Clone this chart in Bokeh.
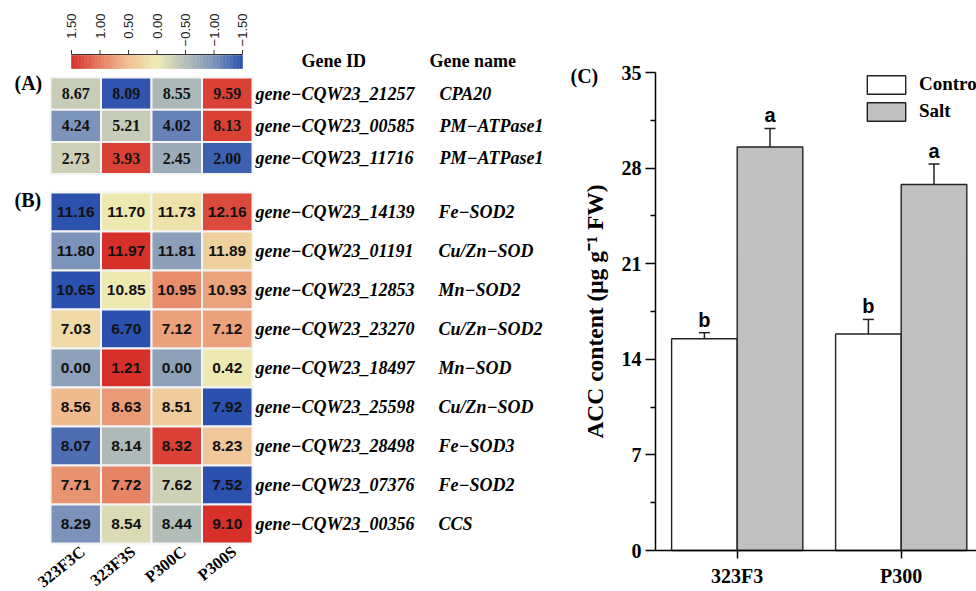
import numpy as np
from bokeh.plotting import figure
from bokeh.models import (Range1d, ColumnDataSource, LinearColorMapper, Whisker, TeeHead,
                          Legend, LegendItem, FixedTicker, LinearAxis)
from bokeh.embed import file_html
from bokeh.resources import INLINE
from bokeh.core.properties import value
from bokeh.transform import transform

# ---------------- data ----------------
samples = ["323F3C", "323F3S", "P300C", "P300S"]

genes_A = ["gene\u2212CQW23_21257", "gene\u2212CQW23_00585", "gene\u2212CQW23_11716"]
names_A = ["CPA20", "PM\u2212ATPase1", "PM\u2212ATPase1"]
expr_A = [[8.67, 8.09, 8.55, 9.59],
          [4.24, 5.21, 4.02, 8.13],
          [2.73, 3.93, 2.45, 2.00]]

genes_B = ["gene\u2212CQW23_14139", "gene\u2212CQW23_01191", "gene\u2212CQW23_12853",
           "gene\u2212CQW23_23270", "gene\u2212CQW23_18497", "gene\u2212CQW23_25598",
           "gene\u2212CQW23_28498", "gene\u2212CQW23_07376", "gene\u2212CQW23_00356"]
names_B = ["Fe\u2212SOD2", "Cu/Zn\u2212SOD", "Mn\u2212SOD2", "Cu/Zn\u2212SOD2", "Mn\u2212SOD",
           "Cu/Zn\u2212SOD", "Fe\u2212SOD3", "Fe\u2212SOD2", "CCS"]
expr_B = [[11.16, 11.70, 11.73, 12.16],
          [11.80, 11.97, 11.81, 11.89],
          [10.65, 10.85, 10.95, 10.93],
          [7.03, 6.70, 7.12, 7.12],
          [0.00, 1.21, 0.00, 0.42],
          [8.56, 8.63, 8.51, 7.92],
          [8.07, 8.14, 8.32, 8.23],
          [7.71, 7.72, 7.62, 7.52],
          [8.29, 8.54, 8.44, 9.10]]

cbar_ticks = [1.5, 1.0, 0.5, 0.0, -0.5, -1.0, -1.5]
cbar_labels = ["1.50", "1.00", "0.50", "0.00", "\u22120.50", "\u22121.00", "\u22121.50"]

cultivars = ["323F3", "P300"]
treatments = ["Control", "Salt"]
acc_control = [15.5, 15.85]
acc_control_err = [0.45, 1.07]
acc_salt = [29.55, 26.8]
acc_salt_err = [1.35, 1.5]
letters_control = ["b", "b"]
letters_salt = ["a", "a"]
acc_ticks = [0, 7, 14, 21, 28, 35]

# ---------------- styling helpers ----------------
anchors = ["#2B50AD", "#7A93BA", "#B3BDB8", "#EEEBB4", "#F0C194", "#E57E61", "#D7302B"]


def build_palette(hexes, n=256):
    rgb = np.array([[int(h[i:i + 2], 16) for i in (1, 3, 5)] for h in hexes], float)
    pos = np.linspace(0, 1, len(hexes))
    t = np.linspace(0, 1, n)
    ch = [np.interp(t, pos, rgb[:, k]) for k in range(3)]
    return ["#%02x%02x%02x" % (int(round(ch[0][i])), int(round(ch[1][i])), int(round(ch[2][i])))
            for i in range(n)]


pal = build_palette(anchors)


def row_z(m):
    a = np.array(m, float)
    return (a - a.mean(axis=1, keepdims=True)) / a.std(axis=1, keepdims=True)


SERIF = value("Liberation Serif")
SANS = value("Liberation Sans")

# ---------------- one canvas ----------------
W, H = 976, 591
col_px, x0_px = 50.5, 50.0
rowA_px, yA0 = 32.2, 77.0
rowB_px, yB0 = 39.0, 192.0

# bar chart geometry (pixels)
bar_left, bar_top, bar_bottom = 655.0, 72.0, 550.0
grp1_px, grp_step = 736.7, 164.0
ymax = 35.0
ppu = (bar_bottom - bar_top) / ymax

p = figure(width=W, height=H, output_backend="svg", toolbar_location=None,
           x_range=Range1d(-x0_px / col_px, (W - x0_px) / col_px),
           y_range=Range1d((H - yB0) / rowB_px, -yB0 / rowB_px),
           x_axis_type=None, y_axis_type=None, min_border=0)
p.outline_line_color = None
p.background_fill_color = "white"
p.extra_y_ranges = {"A": Range1d((H - yA0) / rowA_px, -yA0 / rowA_px),
                    "px": Range1d(H, 0),
                    "by": Range1d(-(H - bar_bottom) / ppu, ymax + bar_top / ppu)}
p.extra_x_ranges = {"px": Range1d(0, W),
                    "z": Range1d(1.5 + 71 / 57.0, 1.5 - (W - 71) / 57.0),
                    "bx": Range1d(1 - grp1_px / grp_step, 1 + (W - grp1_px) / grp_step)}

mapA = LinearColorMapper(palette=pal, low=-1.2, high=1.6)
mapB = LinearColorMapper(palette=pal, low=-1.5, high=1.5)


def cells(expr):
    z = row_z(expr)
    xs, ys, zs, labs = [], [], [], []
    for i, r in enumerate(expr):
        for j, v in enumerate(r):
            xs.append(j + 0.5)
            ys.append(i + 0.5)
            zs.append(float(np.clip(z[i, j], -1.5, 1.5)))
            labs.append(f"{v:.2f}")
    return ColumnDataSource(dict(x=xs, y=ys, z=zs, label=labs))


srcA = cells(expr_A)
srcB = cells(expr_B)

p.rect("x", "y", 1, 1, source=srcA, y_range_name="A",
       fill_color=transform("z", mapA), line_color="#f4f4f4", line_width=2)
p.text("x", "y", text="label", source=srcA, y_range_name="A",
       text_align="center", text_baseline="middle", text_font=SERIF,
       text_font_style="bold", text_font_size="16px", text_color="#111111")

p.rect("x", "y", 1, 1, source=srcB,
       fill_color=transform("z", mapB), line_color="#f4f4f4", line_width=2)
p.text("x", "y", text="label", source=srcB,
       text_align="center", text_baseline="middle", text_font=SANS,
       text_font_style="bold", text_font_size="15.5px", text_color="#111111")

# gene ids / names
rowsA = [i + 0.5 for i in range(len(genes_A))]
rowsB = [i + 0.5 for i in range(len(genes_B))]
lab_kw = dict(text_baseline="middle", text_font=SERIF, text_font_style="bold italic",
              text_font_size="18px", text_color="black")
p.text(x=[255] * len(genes_A), y=rowsA, text=genes_A, x_range_name="px", y_range_name="A", **lab_kw)
p.text(x=[439] * len(names_A), y=rowsA, text=names_A, x_range_name="px", y_range_name="A", **lab_kw)
p.text(x=[255] * len(genes_B), y=rowsB, text=genes_B, x_range_name="px", **lab_kw)
p.text(x=[438] * len(names_B), y=rowsB, text=names_B, x_range_name="px", **lab_kw)

hdr_kw = dict(text_baseline="middle", text_font=SERIF, text_font_style="bold",
              text_font_size="18px", text_color="black", x_range_name="px", y_range_name="px")
p.text(x=[301, 429], y=[60, 60], text=["Gene ID", "Gene name"], **hdr_kw)
p.text(x=[14, 14, 570], y=[82, 199, 75], text=["(A)", "(B)", "(C)"],
       text_baseline="middle", text_font=SERIF, text_font_style="bold",
       text_font_size="20px", text_color="black", x_range_name="px", y_range_name="px")

# sample labels (rotated)
p.text(x=[j + 0.5 for j in range(len(samples))], y=[len(genes_B)] * len(samples), text=samples,
       angle=0.68, text_align="right", text_baseline="middle", x_offset=7, y_offset=6,
       text_font=SERIF, text_font_style="bold", text_font_size="16.5px", text_color="black")

# colour bar
lv = np.linspace(-1.5, 1.5, 121)
cb = ColumnDataSource(dict(left=lv[:-1], right=lv[1:], mid=(lv[:-1] + lv[1:]) / 2))
p.quad(left="left", right="right", top=55, bottom=68, source=cb, x_range_name="z",
       y_range_name="px", fill_color=transform("mid", mapB),
       line_color=transform("mid", mapB), line_width=0.6)
p.segment(x0=[cbar_ticks[0]], x1=[cbar_ticks[-1]], y0=[54], y1=[54], x_range_name="z",
          y_range_name="px", line_color="#333333", line_width=1)
p.segment(x0=cbar_ticks, x1=cbar_ticks, y0=[54] * len(cbar_ticks), y1=[49.5] * len(cbar_ticks),
          x_range_name="z", y_range_name="px", line_color="#333333", line_width=1)
p.text(x=cbar_ticks, y=[13] * len(cbar_ticks), text=cbar_labels, angle=np.pi / 2,
       text_align="right", text_baseline="middle", x_range_name="z", y_range_name="px",
       text_font=SANS, text_font_size="13px", text_color="#222222")

# ---------------- bar chart ----------------
gx = np.arange(len(cultivars)) + 1.0
bw = 0.4
ctrl_src = ColumnDataSource(dict(x=gx - bw / 2, top=acc_control,
                                 upper=np.array(acc_control) + np.array(acc_control_err),
                                 lower=np.array(acc_control) - np.array(acc_control_err),
                                 letter=letters_control))
salt_src = ColumnDataSource(dict(x=gx + bw / 2, top=acc_salt,
                                 upper=np.array(acc_salt) + np.array(acc_salt_err),
                                 lower=np.array(acc_salt) - np.array(acc_salt_err),
                                 letter=letters_salt))
bkw = dict(x_range_name="bx", y_range_name="by")
r_c = p.vbar(x="x", top="top", bottom=0, width=bw, source=ctrl_src,
             fill_color="white", line_color="#222222", line_width=1.4, **bkw)
r_s = p.vbar(x="x", top="top", bottom=0, width=bw, source=salt_src,
             fill_color="#C0C0C0", line_color="#222222", line_width=1.4, **bkw)

for s in (ctrl_src, salt_src):
    p.add_layout(Whisker(source=s, base="x", upper="upper", lower="lower",
                         line_color="#222222", line_width=1.5,
                         upper_head=TeeHead(size=11, line_color="#222222", line_width=1.5),
                         lower_head=TeeHead(size=11, line_color="#222222", line_width=1.5),
                         **bkw))
    p.text(x="x", y="upper", text="letter", source=s, text_align="center",
           text_baseline="bottom", y_offset=-2, text_font=SANS, text_font_style="bold",
           text_font_size="20px", text_color="black", **bkw)

x_left_data = 1 - (grp1_px - bar_left) / grp_step
x_right_data = 1 + (W - grp1_px) / grp_step

xa = LinearAxis(x_range_name="bx", y_range_name="by", fixed_location=0,
                bounds=(x_left_data, x_right_data))
xa.ticker = FixedTicker(ticks=list(gx), minor_ticks=[])
xa.major_label_overrides = {float(v): c for v, c in zip(gx, cultivars)}
xa.major_tick_out = 8
xa.major_tick_in = 0
xa.minor_tick_out = 0
xa.axis_line_width = 1.5
xa.major_tick_line_width = 1.5
xa.major_label_text_font = "Liberation Serif"
xa.major_label_text_font_style = "bold"
xa.major_label_text_font_size = "20px"
xa.major_label_text_color = "black"
xa.major_label_standoff = 6
p.add_layout(xa, "below")

minor = [(a + b) / 2 for a, b in zip(acc_ticks[:-1], acc_ticks[1:])]
ya = LinearAxis(x_range_name="bx", y_range_name="by", fixed_location=x_left_data,
                bounds=(acc_ticks[0], acc_ticks[-1]))
ya.ticker = FixedTicker(ticks=acc_ticks, minor_ticks=minor)
ya.major_tick_out = 10
ya.major_tick_in = 0
ya.minor_tick_out = 5
ya.minor_tick_in = 0
ya.axis_line_width = 1.5
ya.major_tick_line_width = 1.5
ya.minor_tick_line_width = 1.5
ya.major_label_text_font = "Liberation Serif"
ya.major_label_text_font_style = "bold"
ya.major_label_text_font_size = "20px"
ya.major_label_text_color = "black"
ya.major_label_standoff = 4
ya.axis_label = "ACC content (\u03bcg g\u207b\u00b9 FW)"
ya.axis_label_text_font = "Liberation Serif"
ya.axis_label_text_font_style = "bold"
ya.axis_label_text_font_size = "23.5px"
ya.axis_label_text_color = "black"
ya.axis_label_standoff = 11
p.add_layout(ya, "left")

legend = Legend(items=[LegendItem(label=treatments[0], renderers=[r_c]),
                       LegendItem(label=treatments[1], renderers=[r_s])],
                location=(862, H - 122.7), glyph_width=48, glyph_height=23, spacing=4,
                padding=0, margin=0, label_standoff=9, border_line_color=None,
                background_fill_alpha=0, label_text_font="Liberation Serif",
                label_text_font_style="bold", label_text_font_size="19px",
                label_text_color="black")
p.add_layout(legend)

open("out.html", "w").write(file_html(p, INLINE))
